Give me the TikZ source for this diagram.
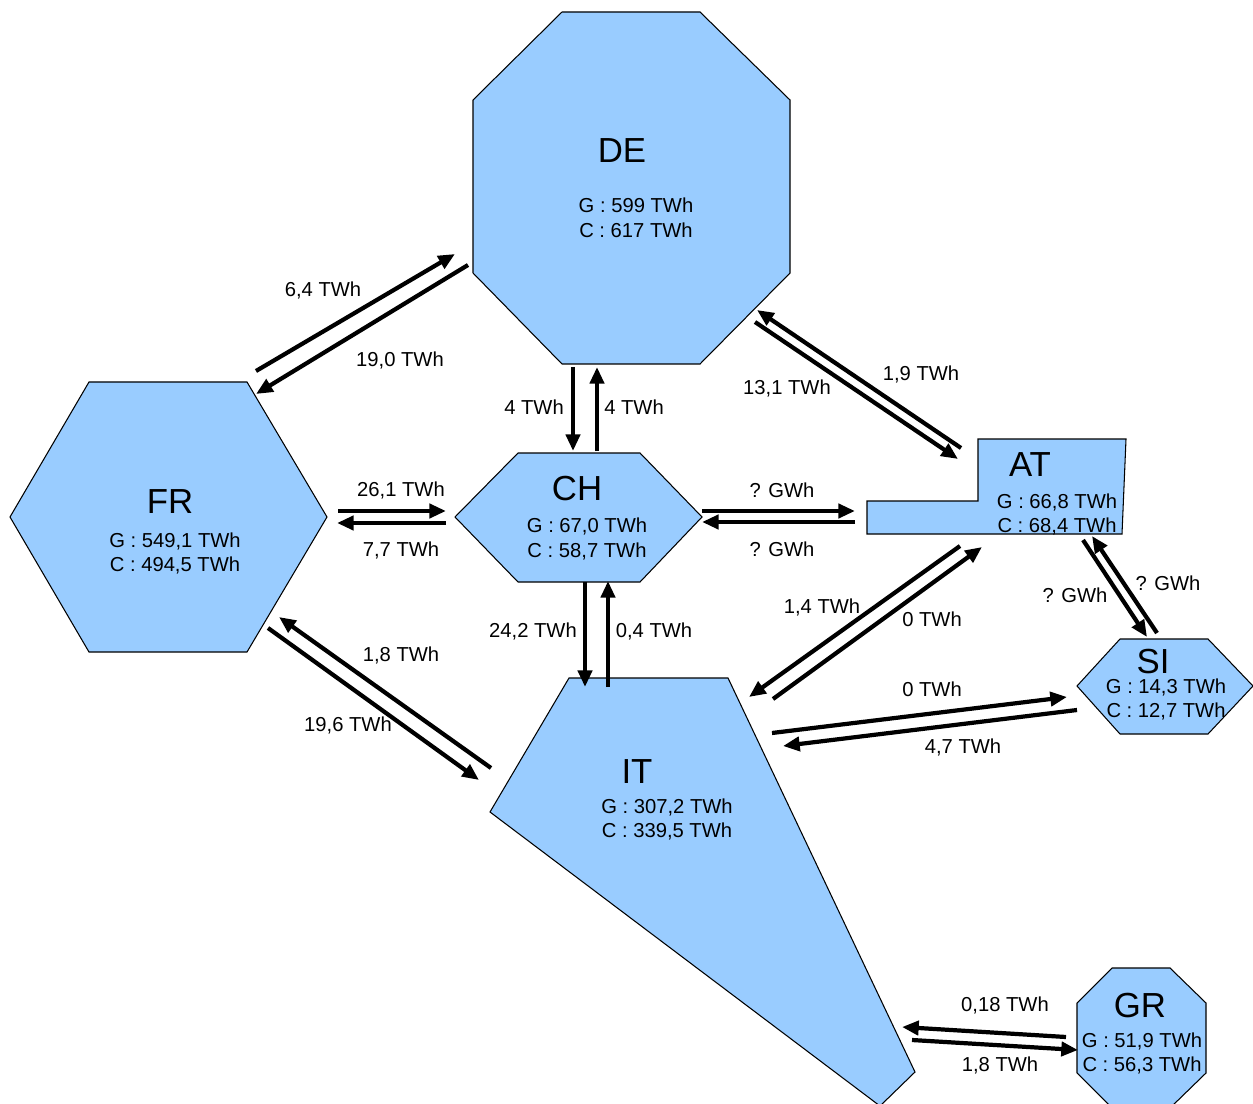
\documentclass[tikz,border=0pt]{standalone}
\usepackage{fontspec}
\setmainfont{Liberation Sans}
\usetikzlibrary{arrows.meta}
\definecolor{landblue}{HTML}{99CCFF}
\begin{document}
\begin{tikzpicture}[x=0.02cm,y=-0.02cm,
    country/.style={fill=landblue,draw=black,line width=0.6pt,line join=miter},
    flow/.style={line width=2.4pt,-{Triangle[length=9.5pt,width=8pt]}},
    cname/.style={anchor=base,inner sep=0pt,font=\fontsize{19.8}{22}\selectfont},
    val/.style={anchor=base,inner sep=0pt,font=\fontsize{11.5}{13}\selectfont},
    lbl/.style={anchor=base,inner sep=0pt,font=\fontsize{11.5}{13}\selectfont}]
    \useasboundingbox (0,0) rectangle (1253,1104);
    \begin{scope}
    \clip (0,0) rectangle (1253,1104);
    \draw[country] (562,12) -- (700,12) -- (790,100) -- (790,273) -- (700,364) -- (562,364) -- (473,273) -- (473,100) -- cycle;
    \draw[country] (89,382) -- (247,382) -- (327,517) -- (247,652) -- (89,652) -- (10,517) -- cycle;
    \draw[country] (518,453) -- (640,453) -- (702,517) -- (640,582) -- (518,582) -- (455,517) -- cycle;
    \draw[country] (978,439) -- (1126,439) -- (1122,534) -- (867,534) -- (867,501) -- (978,501) -- cycle;
    \draw[country] (1120,639) -- (1208,639) -- (1253,686) -- (1208,734) -- (1120,734) -- (1077,686) -- cycle;
    \draw[country] (569,678) -- (728,678) -- (915,1072) -- (880,1106) -- (490,812) -- cycle;
    \draw[country] (1112,968) -- (1170,968) -- (1206,1003) -- (1206,1073) -- (1170,1108) -- (1112,1108) -- (1077,1073) -- (1077,1003) -- cycle;
    \end{scope}

    \node[cname] (de) at (622,163) {DE};
    \node[val] (de-g) at (636,213) {G : 599 TWh};
    \node[val] (de-c) at (636,238) {C : 617 TWh};
    \node[cname] (fr) at (170,513) {FR};
    \node[val] (fr-g) at (175,547) {G : 549,1 TWh};
    \node[val] (fr-c) at (175,571) {C : 494,5 TWh};
    \node[cname] (ch) at (577,500) {CH};
    \node[val] (ch-g) at (587,532) {G : 67,0 TWh};
    \node[val] (ch-c) at (587,557) {C : 58,7 TWh};
    \node[cname] (at) at (1030,476) {AT};
    \node[val] (at-g) at (1057,508) {G : 66,8 TWh};
    \node[val] (at-c) at (1057,532) {C : 68,4 TWh};
    \node[cname] (si) at (1153,673) {SI};
    \node[val] (si-g) at (1166,693) {G : 14,3 TWh};
    \node[val] (si-c) at (1166,717) {C : 12,7 TWh};
    \node[cname] (it) at (637,783) {IT};
    \node[val] (it-g) at (667,813) {G : 307,2 TWh};
    \node[val] (it-c) at (667,837) {C : 339,5 TWh};
    \node[cname] (gr) at (1140,1017) {GR};
    \node[val] (gr-g) at (1142,1047) {G : 51,9 TWh};
    \node[val] (gr-c) at (1142,1071) {C : 56,3 TWh};

    \coordinate (fr-de-a) at (256,371); \coordinate (fr-de-b) at (455,254);
    \coordinate (de-fr-a) at (468,265); \coordinate (de-fr-b) at (256,394);
    \coordinate (de-ch-a) at (573,367); \coordinate (de-ch-b) at (573,451);
    \coordinate (ch-de-a) at (597,451); \coordinate (ch-de-b) at (597,367);
    \coordinate (de-at-a) at (755,322); \coordinate (de-at-b) at (958,459);
    \coordinate (at-de-a) at (961,448); \coordinate (at-de-b) at (757,310);
    \coordinate (fr-ch-a) at (338,511); \coordinate (fr-ch-b) at (446,511);
    \coordinate (ch-fr-a) at (446,523); \coordinate (ch-fr-b) at (337,523);
    \coordinate (ch-at-a) at (702,511); \coordinate (ch-at-b) at (855,511);
    \coordinate (at-ch-a) at (855,522); \coordinate (at-ch-b) at (702,522);
    \coordinate (ch-it-a) at (585,582); \coordinate (ch-it-b) at (585,687);
    \coordinate (it-ch-a) at (608,687); \coordinate (it-ch-b) at (608,581);
    \coordinate (it-fr-a) at (491,768); \coordinate (it-fr-b) at (279,617);
    \coordinate (fr-it-a) at (268,628); \coordinate (fr-it-b) at (479,780);
    \coordinate (at-it-a) at (960,546); \coordinate (at-it-b) at (749,697);
    \coordinate (it-at-a) at (773,699); \coordinate (it-at-b) at (982,547);
    \coordinate (it-si-a) at (772,733); \coordinate (it-si-b) at (1067,697);
    \coordinate (si-it-a) at (1077,710); \coordinate (si-it-b) at (783,746);
    \coordinate (at-si-a) at (1083,540); \coordinate (at-si-b) at (1147,637);
    \coordinate (si-at-a) at (1157,633); \coordinate (si-at-b) at (1092,536);
    \coordinate (gr-it-a) at (1066,1037); \coordinate (gr-it-b) at (902,1027);
    \coordinate (it-gr-a) at (912,1040); \coordinate (it-gr-b) at (1078,1050);

    \draw[flow] (fr-de-a) -- (fr-de-b);
    \draw[flow] (de-fr-a) -- (de-fr-b);
    \draw[flow] (de-ch-a) -- (de-ch-b);
    \draw[flow] (ch-de-a) -- (ch-de-b);
    \draw[flow] (de-at-a) -- (de-at-b);
    \draw[flow] (at-de-a) -- (at-de-b);
    \draw[flow] (fr-ch-a) -- (fr-ch-b);
    \draw[flow] (ch-fr-a) -- (ch-fr-b);
    \draw[flow] (ch-at-a) -- (ch-at-b);
    \draw[flow] (at-ch-a) -- (at-ch-b);
    \draw[flow] (ch-it-a) -- (ch-it-b);
    \draw[flow] (it-ch-a) -- (it-ch-b);
    \draw[flow] (it-fr-a) -- (it-fr-b);
    \draw[flow] (fr-it-a) -- (fr-it-b);
    \draw[flow] (at-it-a) -- (at-it-b);
    \draw[flow] (it-at-a) -- (it-at-b);
    \draw[flow] (it-si-a) -- (it-si-b);
    \draw[flow] (si-it-a) -- (si-it-b);
    \draw[flow] (at-si-a) -- (at-si-b);
    \draw[flow] (si-at-a) -- (si-at-b);
    \draw[flow] (gr-it-a) -- (gr-it-b);
    \draw[flow] (it-gr-a) -- (it-gr-b);

    \node[lbl] (l-fr-de) at (323,297) {6,4 TWh};
    \node[lbl] (l-de-fr) at (400,367) {19,0 TWh};
    \node[lbl] (l-de-ch) at (534,415) {4 TWh};
    \node[lbl] (l-ch-de) at (634,415) {4 TWh};
    \node[lbl] (l-de-at) at (787,395) {13,1 TWh};
    \node[lbl] (l-at-de) at (921,380) {1,9 TWh};
    \node[lbl] (l-fr-ch) at (401,496) {26,1 TWh};
    \node[lbl] (l-ch-fr) at (401,556) {7,7 TWh};
    \node[lbl] (l-ch-at) at (782,497) {? GWh};
    \node[lbl] (l-at-ch) at (782,556) {? GWh};
    \node[lbl] (l-ch-it) at (533,637) {24,2 TWh};
    \node[lbl] (l-it-ch) at (654,637) {0,4 TWh};
    \node[lbl] (l-it-fr) at (401,661) {1,8 TWh};
    \node[lbl] (l-fr-it) at (348,731) {19,6 TWh};
    \node[lbl] (l-at-it) at (822,613) {1,4 TWh};
    \node[lbl] (l-it-at) at (932,626) {0 TWh};
    \node[lbl] (l-it-si) at (932,696) {0 TWh};
    \node[lbl] (l-si-it) at (963,753) {4,7 TWh};
    \node[lbl] (l-at-si) at (1075,602) {? GWh};
    \node[lbl] (l-si-at) at (1168,590) {? GWh};
    \node[lbl] (l-gr-it) at (1005,1011) {0,18 TWh};
    \node[lbl] (l-it-gr) at (1000,1071) {1,8 TWh};
\end{tikzpicture}
\end{document}
